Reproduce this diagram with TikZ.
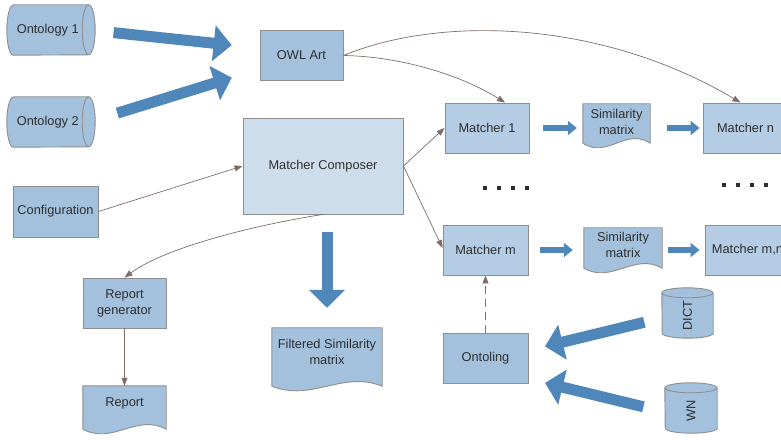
\documentclass[tikz,border=0pt]{standalone}
\usepackage{fontspec}
\setmainfont{Liberation Sans}
\usepackage{graphicx}
\usepackage{tikz}
\usetikzlibrary{arrows.meta,backgrounds}

\definecolor{boxblue}{HTML}{A3C1DD}
\definecolor{matchblue}{HTML}{B4CCE4}
\definecolor{compblue}{HTML}{CEDDEC}
\definecolor{arrowblue}{HTML}{4F87BA}
\definecolor{linkgray}{HTML}{7D6E69}
\definecolor{edgegray}{HTML}{8E8E8E}
\definecolor{textgray}{HTML}{2E2E2E}

\tikzset{
  box/.style={draw=edgegray, line width=0.9pt, fill=boxblue, text=textgray, align=center,
    inner sep=0pt, minimum width=83pt, minimum height=50pt},
  matcher/.style={box, fill=matchblue, minimum width=85pt},
  docbox/.style={text=textgray, align=center, inner sep=0pt},
  docline/.style={draw=edgegray, line width=0.9pt, fill=boxblue},
  link/.style={draw=linkgray, line width=0.7pt, -{Triangle[length=8pt,width=6pt]}},
  bigarrow/.style={draw=arrowblue, line width=11pt, -{Triangle[length=18pt,width=35pt]}},
  smallarrow/.style={draw=arrowblue, line width=6pt, -{Triangle[length=9pt,width=14pt]}}
}

% outline of a document: flat top, wavy bottom, drawn behind the text node
\newcommand{\docoutline}[3]{%
  \begin{scope}[on background layer]
    \draw[docline] (#1.north west) -- (#1.north east) -- ([yshift=-#2pt]#1.south east)
      .. controls +(-#3,16) and +(#3,-16) .. ([yshift=-#2pt]#1.south west) -- cycle;
  \end{scope}}

% drum lying on its side, end face centred on the node's east side
\newcommand{\drumside}[3]{%
  \begin{scope}[on background layer]
    \draw[docline] ([xshift=#2pt]#1.north west) -- (#1.north east)
      arc[start angle=90, end angle=-90, x radius=#2, y radius=#3]
      -- ([xshift=#2pt]#1.south west)
      arc[start angle=270, end angle=90, x radius=#2, y radius=#3] -- cycle;
    \draw[docline, fill=none] (#1.north east) arc[start angle=90, end angle=270, x radius=#2, y radius=#3];
  \end{scope}}

% standing drum, top face centred on the node's north side
\newcommand{\drumup}[3]{%
  \begin{scope}[on background layer]
    \draw[docline] (#1.north east) -- ([yshift=#3pt]#1.south east)
      arc[start angle=0, end angle=-180, x radius=#2, y radius=#3]
      -- (#1.north west)
      arc[start angle=180, end angle=0, x radius=#2, y radius=#3] -- cycle;
    \draw[docline, fill=none] (#1.north west) arc[start angle=180, end angle=360, x radius=#2, y radius=#3];
  \end{scope}}

\begin{document}
\begin{tikzpicture}[x=1pt, y=1pt, font=\fontsize{12.8}{16}\selectfont]
    \path[use as bounding box, clip] (0,0) rectangle (781,439);

    % Input ontologies
    \node[docbox, minimum width=81.5pt, minimum height=50pt] (ont1) at (47.75,409) {Ontology 1};
    \drumside{ont1}{6.5}{25}
    \node[docbox, minimum width=81.5pt, minimum height=50pt] (ont2) at (47.75,317) {Ontology 2};
    \drumside{ont2}{6.5}{25}

    % Main boxes
    \node[box] (owl) at (301.5,383.5) {OWL Art};
    \node[box, fill=compblue, minimum width=160pt, minimum height=96pt] (comp) at (323,273) {Matcher Composer};
    \node[box, minimum width=85pt, minimum height=51pt] (config) at (55.5,227.5) {Configuration};
    \node[box] (repgen) at (124.5,136) {Report\\generator};

    % Output documents
    \node[docbox, minimum width=83pt, minimum height=34pt] (report) at (124.5,36) {Report};
    \docoutline{report}{9}{30}
    \node[docbox, minimum width=110pt, minimum height=48pt] (filt) at (327,87) {Filtered Similarity\\matrix};
    \docoutline{filt}{10}{40}

    % Matcher chains
    \node[matcher, minimum width=84pt] (m1) at (487,311) {Matcher 1};
    \node[docbox, minimum width=67pt, minimum height=36pt] (sim1) at (616.5,317) {Similarity\\matrix};
    \docoutline{sim1}{3}{24}
    \node[matcher] (mn) at (745.5,311) {Matcher n};
    \node[matcher] (mm) at (485.5,189) {Matcher m};
    \node[docbox, minimum width=78pt, minimum height=34pt] (sim2) at (623,194) {Similarity\\matrix};
    \docoutline{sim2}{6}{28}
    \node[matcher] (mmn) at (747.5,189) {Matcher m,n};

    % Ontoling and its lexical resources
    \node[box, minimum width=85pt] (onto) at (485.5,81) {Ontoling};
    \node[docbox, minimum width=51pt, minimum height=45pt] (dict) at (687.5,123.5) {\rotatebox{90}{DICT}};
    \drumup{dict}{25.5}{5}
    \node[docbox, minimum width=52pt, minimum height=45pt] (wn) at (691,28.5) {\rotatebox{90}{WN}};
    \drumup{wn}{26}{5}

    % Dots between the chains
    \foreach \x in {485,499,513,527} \fill[textgray] (\x-2.3,248.7) rectangle +(4.6,4.6);
    \foreach \x in {724,738,752,766} \fill[textgray] (\x-2.3,251.7) rectangle +(4.6,4.6);

    % Thick arrows
    \draw[bigarrow, shorten <=25pt, shorten >=28pt] (ont1.east) -- (owl.170);
    \draw[bigarrow, shorten <=30pt, shorten >=29pt] (ont2.east) -- (owl.198);
    \draw[bigarrow, shorten <=18pt, shorten >=20pt] (comp.south -| filt.north) -- (filt.north);
    \draw[bigarrow, shorten <=18pt, shorten >=17pt] ([yshift=-2.5pt]dict.west) -- (onto.10);
    \draw[bigarrow, shorten <=22pt, shorten >=17pt] ([yshift=-1.5pt]wn.west) -- (onto.-26);

    % Short arrows along the chains
    \draw[smallarrow, shorten <=14pt, shorten >=6pt] (m1.east) -- (m1.east -| sim1.west);
    \draw[smallarrow, shorten <=17pt, shorten >=3pt] (mn.west -| sim1.east) -- (mn.west);
    \draw[smallarrow, shorten <=12pt, shorten >=11pt] (mm.east) -- (mm.east -| sim2.west);
    \draw[smallarrow, shorten <=6pt, shorten >=5pt] (mmn.west -| sim2.east) -- (mmn.west);

    % Thin connectors
    \draw[link] (owl.east) .. controls +(57,-1) and +(-45,28) .. ([xshift=18pt]m1.north);
    \draw[link] (owl.east) .. controls +(97,40) and +(-140,83) .. ([xshift=-5pt]mn.north);
    \draw[link] (comp.east) -- (m1.west);
    \draw[link] (comp.east) -- ([yshift=2pt]mm.west);
    \draw[link] (config.east) -- (comp.west);
    \draw[link] (comp.south) .. controls +(-53,-8) and +(45,33) .. (repgen.north);
    \draw[link] (repgen.south) -- (report.north);
    \draw[link, dash pattern=on 8pt off 5pt] (onto.north) -- (mm.south);
\end{tikzpicture}
\end{document}
